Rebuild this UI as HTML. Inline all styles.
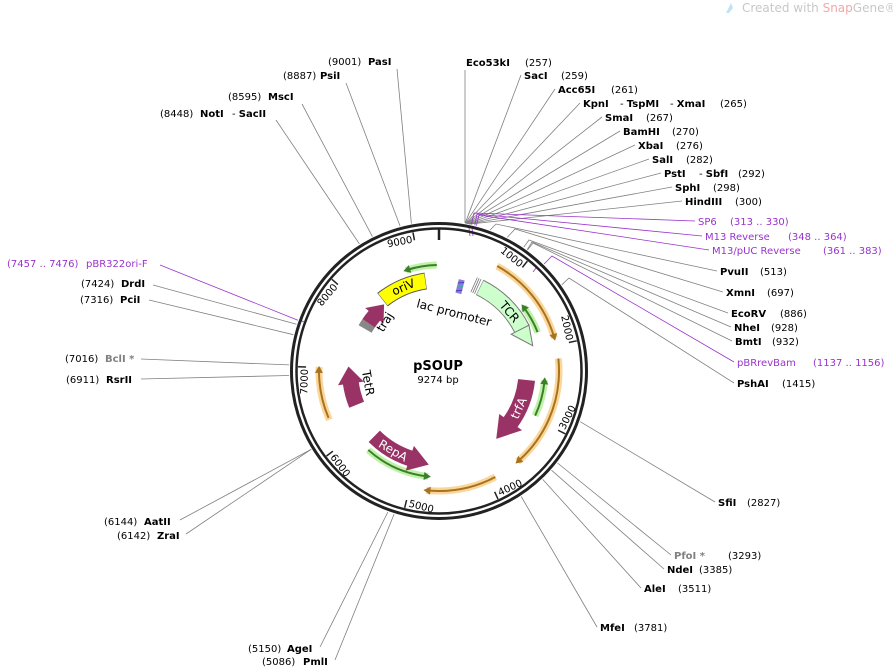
<!DOCTYPE html>
<html><head><meta charset="utf-8"><style>
html,body{margin:0;padding:0;background:#fff;}
svg{display:block;font-family:"DejaVu Sans","Liberation Sans",sans-serif;}
.n{font-size:10px;fill:#000;}
.b{font-weight:bold;}
.p{fill:#9933cc;}
.g{fill:#808080;}
.ln{stroke:#808080;stroke-width:0.8;fill:none;}
.lp{stroke:#9933cc;stroke-width:0.8;fill:none;}
.tk{font-size:10px;fill:#000;}
</style></head><body>
<svg width="893" height="670" viewBox="0 0 893 670" xmlns="http://www.w3.org/2000/svg">
<rect width="893" height="670" fill="#fff"/>
<path d="M726 13 L731 3 L733 8 L729 13 Z" fill="#bfe3f3"/>
<text x="742" y="12" font-size="12" fill="#c8c8c8">Created with <tspan fill="#f2a8a8">Snap</tspan>Gene®</text>

<g class="ln">
<line x1="465" y1="223" x2="465" y2="70"/>
<line x1="465.2" y1="223.3" x2="521" y2="75"/>
<line x1="465.4" y1="223.3" x2="555" y2="89"/>
<line x1="465.8" y1="223.4" x2="580" y2="103"/>
<line x1="466" y1="223.4" x2="602" y2="117"/>
<line x1="466.3" y1="223.5" x2="620" y2="131"/>
<line x1="466.9" y1="223.6" x2="635" y2="145"/>
<line x1="467.5" y1="223.7" x2="649" y2="159"/>
<line x1="468.5" y1="223.9" x2="661" y2="173"/>
<line x1="469.1" y1="224" x2="672" y2="187"/>
<line x1="469.3" y1="224.1" x2="682" y2="201"/>
<polyline points="490.1,230 496,224 717,271"/>
<polyline points="507.2,237.4 515,229 723,292"/>
<polyline points="523.7,247.2 529,240 728,313"/>
<polyline points="527.2,249.7 532,242 731,327"/>
<polyline points="527.5,250 533,243 732,341"/>
<polyline points="561.8,284.8 569,278 734,383"/>
<line x1="580.2" y1="421.7" x2="715" y2="502"/>
<line x1="557.5" y1="463" x2="671" y2="555"/>
<line x1="551.5" y1="470.2" x2="664" y2="569"/>
<line x1="542.7" y1="479.4" x2="641" y2="588"/>
<line x1="521.2" y1="496.5" x2="597" y2="627"/>
<line x1="411.4" y1="223.6" x2="397" y2="69"/>
<line x1="400.1" y1="226.1" x2="346" y2="83"/>
<line x1="372.4" y1="236.6" x2="302" y2="104"/>
<line x1="359.4" y1="243.9" x2="276" y2="120"/>
<line x1="296.5" y1="324.2" x2="153" y2="285"/>
<line x1="293.4" y1="334.7" x2="149" y2="300"/>
<line x1="289.1" y1="364.9" x2="141" y2="359"/>
<line x1="289.1" y1="375.5" x2="141" y2="379"/>
<line x1="311.1" y1="449.4" x2="180" y2="520"/>
<line x1="311.2" y1="449.3" x2="186" y2="534"/>
<line x1="387.9" y1="512" x2="320" y2="647"/>
<line x1="394.1" y1="514.1" x2="335" y2="660"/>
</g>
<g class="lp">
<polyline points="471.4,224.5 474,213 695,221"/>
<polyline points="474.8,225.3 477,214 702,236"/>
<polyline points="476.4,225.7 479,215 709,250"/>
<polyline points="544.1,264 552,256 734,362"/>
<line x1="297.9" y1="320.2" x2="160" y2="265"/>
<line x1="469" y1="228" x2="470" y2="236"/>
<line x1="472" y1="228" x2="473" y2="236"/>
<line x1="536" y1="268" x2="533" y2="272"/>
<line x1="304" y1="322" x2="300" y2="320"/>
</g>

<g class="n">
<text y="66"><tspan x="466" class="b">Eco53kI</tspan><tspan x="525">(257)</tspan></text>
<text y="79"><tspan x="524" class="b">SacI</tspan><tspan x="561">(259)</tspan></text>
<text y="93"><tspan x="558" class="b">Acc65I</tspan><tspan x="611">(261)</tspan></text>
<text y="107"><tspan x="583" class="b">KpnI</tspan><tspan x="620">- </tspan><tspan class="b">TspMI</tspan><tspan x="670">- </tspan><tspan class="b">XmaI</tspan><tspan x="720">(265)</tspan></text>
<text y="121"><tspan x="605" class="b">SmaI</tspan><tspan x="646">(267)</tspan></text>
<text y="135"><tspan x="623" class="b">BamHI</tspan><tspan x="672">(270)</tspan></text>
<text y="149"><tspan x="638" class="b">XbaI</tspan><tspan x="676">(276)</tspan></text>
<text y="163"><tspan x="652" class="b">SalI</tspan><tspan x="686">(282)</tspan></text>
<text y="177"><tspan x="664" class="b">PstI</tspan><tspan x="699">- </tspan><tspan class="b">SbfI</tspan><tspan x="738">(292)</tspan></text>
<text y="191"><tspan x="675" class="b">SphI</tspan><tspan x="713">(298)</tspan></text>
<text y="205"><tspan x="685" class="b">HindIII</tspan><tspan x="735">(300)</tspan></text>
<text y="225" class="p"><tspan x="698">SP6</tspan><tspan x="730">(313 .. 330)</tspan></text>
<text y="240" class="p"><tspan x="705">M13 Reverse</tspan><tspan x="788">(348 .. 364)</tspan></text>
<text y="254" class="p"><tspan x="712">M13/pUC Reverse</tspan><tspan x="823">(361 .. 383)</tspan></text>
<text y="275"><tspan x="720" class="b">PvuII</tspan><tspan x="760">(513)</tspan></text>
<text y="296"><tspan x="726" class="b">XmnI</tspan><tspan x="767">(697)</tspan></text>
<text y="317"><tspan x="731" class="b">EcoRV</tspan><tspan x="780">(886)</tspan></text>
<text y="331"><tspan x="734" class="b">NheI</tspan><tspan x="771">(928)</tspan></text>
<text y="345"><tspan x="735" class="b">BmtI</tspan><tspan x="772">(932)</tspan></text>
<text y="366" class="p"><tspan x="737">pBRrevBam</tspan><tspan x="813">(1137 .. 1156)</tspan></text>
<text y="387"><tspan x="737" class="b">PshAI</tspan><tspan x="782">(1415)</tspan></text>
<text y="506"><tspan x="718" class="b">SfiI</tspan><tspan x="747">(2827)</tspan></text>
<text y="559"><tspan x="674" class="b g">PfoI *</tspan><tspan x="728">(3293)</tspan></text>
<text y="573"><tspan x="667" class="b">NdeI</tspan><tspan x="699">(3385)</tspan></text>
<text y="592"><tspan x="644" class="b">AleI</tspan><tspan x="678">(3511)</tspan></text>
<text y="631"><tspan x="600" class="b">MfeI</tspan><tspan x="634">(3781)</tspan></text>
<text y="65"><tspan x="328">(9001)</tspan><tspan x="368" class="b">PasI</tspan></text>
<text y="79"><tspan x="283">(8887)</tspan><tspan x="320" class="b">PsiI</tspan></text>
<text y="100"><tspan x="228">(8595)</tspan><tspan x="268" class="b">MscI</tspan></text>
<text y="117"><tspan x="160">(8448)</tspan><tspan x="200" class="b">NotI</tspan><tspan x="232">- </tspan><tspan class="b">SacII</tspan></text>
<text y="267" class="p"><tspan x="7">(7457 .. 7476)</tspan><tspan x="86">pBR322ori-F</tspan></text>
<text y="287"><tspan x="81">(7424)</tspan><tspan x="121" class="b">DrdI</tspan></text>
<text y="303"><tspan x="80">(7316)</tspan><tspan x="120" class="b">PciI</tspan></text>
<text y="362"><tspan x="65">(7016)</tspan><tspan x="105" class="b g">BclI *</tspan></text>
<text y="383"><tspan x="66">(6911)</tspan><tspan x="106" class="b">RsrII</tspan></text>
<text y="525"><tspan x="104">(6144)</tspan><tspan x="144" class="b">AatII</tspan></text>
<text y="539"><tspan x="117">(6142)</tspan><tspan x="157" class="b">ZraI</tspan></text>
<text y="652"><tspan x="248">(5150)</tspan><tspan x="287" class="b">AgeI</tspan></text>
<text y="665"><tspan x="262">(5086)</tspan><tspan x="303" class="b">PmlI</tspan></text>
</g>

<g transform="translate(439,371)">
<circle r="147.5" fill="none" stroke="#222" stroke-width="3"/>
<circle r="142.5" fill="none" stroke="#222" stroke-width="2.5"/>
<line x1="0" y1="-143" x2="0" y2="-131" stroke="#222" stroke-width="2.5"/>
<g stroke="#222" stroke-width="1.5">
<line x1="0" y1="-141" x2="0" y2="-133" transform="rotate(38.82)"/>
<line x1="0" y1="-141" x2="0" y2="-133" transform="rotate(77.64)"/>
<line x1="0" y1="-141" x2="0" y2="-133" transform="rotate(116.45)"/>
<line x1="0" y1="-141" x2="0" y2="-133" transform="rotate(155.27)"/>
<line x1="0" y1="-141" x2="0" y2="-133" transform="rotate(194.09)"/>
<line x1="0" y1="-141" x2="0" y2="-133" transform="rotate(232.91)"/>
<line x1="0" y1="-141" x2="0" y2="-133" transform="rotate(271.73)"/>
<line x1="0" y1="-141" x2="0" y2="-133" transform="rotate(310.55)"/>
<line x1="0" y1="-141" x2="0" y2="-133" transform="rotate(349.36)"/>
</g>
<g class="tk">
<text transform="rotate(38.82) translate(0,-131)" x="-2" text-anchor="end">1000</text>
<text transform="rotate(77.64) translate(0,-131)" x="-2" text-anchor="end">2000</text>
<text transform="rotate(116.45) translate(0,-139) rotate(180)" x="3" text-anchor="start">3000</text>
<text transform="rotate(155.27) translate(0,-139) rotate(180)" x="3" text-anchor="start">4000</text>
<text transform="rotate(194.09) translate(0,-139) rotate(180)" x="3" text-anchor="start">5000</text>
<text transform="rotate(232.91) translate(0,-139) rotate(180)" x="3" text-anchor="start">6000</text>
<text transform="rotate(271.73) translate(0,-131)" x="-2" text-anchor="end">7000</text>
<text transform="rotate(310.55) translate(0,-131)" x="-2" text-anchor="end">8000</text>
<text transform="rotate(349.36) translate(0,-131)" x="-2" text-anchor="end">9000</text>
</g>

<g fill="none" transform="rotate(-90)">
<circle r="120" pathLength="360" stroke="#fbd69a" stroke-width="7" stroke-dasharray="0 29 45 400"/>
<circle r="120" pathLength="360" stroke="#fbd69a" stroke-width="7" stroke-dasharray="0 84 55 400"/>
<circle r="120" pathLength="360" stroke="#fbd69a" stroke-width="7" stroke-dasharray="0 152 34 400"/>
<circle r="120" pathLength="360" stroke="#fbd69a" stroke-width="7" stroke-dasharray="0 246 26 400"/>
<circle r="120" pathLength="360" stroke="#a8731f" stroke-width="2" stroke-dasharray="0 29 44 400"/>
<circle r="120" pathLength="360" stroke="#a8731f" stroke-width="2" stroke-dasharray="0 84 54 400"/>
<circle r="120" pathLength="360" stroke="#a8731f" stroke-width="2" stroke-dasharray="0 152 33 400"/>
<circle r="120" pathLength="360" stroke="#a8731f" stroke-width="2" stroke-dasharray="0 247 23 400"/>
<circle r="106" pathLength="360" stroke="#bff2a8" stroke-width="7" stroke-dasharray="0 52.7 16 400"/>
<circle r="106" pathLength="360" stroke="#bff2a8" stroke-width="7" stroke-dasharray="0 95 20 400"/>
<circle r="106" pathLength="360" stroke="#bff2a8" stroke-width="7" stroke-dasharray="0 186 36 400"/>
<circle r="106" pathLength="360" stroke="#bff2a8" stroke-width="7" stroke-dasharray="0 342 17 400"/>
<circle r="106" pathLength="360" stroke="#3b7f2a" stroke-width="2" stroke-dasharray="0 53.5 15 400"/>
<circle r="106" pathLength="360" stroke="#3b7f2a" stroke-width="2" stroke-dasharray="0 96 19 400"/>
<circle r="106" pathLength="360" stroke="#3b7f2a" stroke-width="2" stroke-dasharray="0 187 35 400"/>
<circle r="106" pathLength="360" stroke="#3b7f2a" stroke-width="2" stroke-dasharray="0 343 16 400"/>
</g>
<g fill="#a8731f">
<polygon transform="rotate(74) translate(0,-120)" points="-4,-4 3,0 -4,4"/>
<polygon transform="rotate(139) translate(0,-120)" points="-4,-4 3,0 -4,4"/>
<polygon transform="rotate(186) translate(0,-120)" points="-4,-4 3,0 -4,4"/>
<polygon transform="rotate(271) translate(0,-120)" points="-4,-4 3,0 -4,4"/>
</g>
<g fill="#3b7f2a">
<polygon transform="rotate(52.7) translate(0,-106)" points="4,-4 -3,0 4,4"/>
<polygon transform="rotate(95) translate(0,-106)" points="4,-4 -3,0 4,4"/>
<polygon transform="rotate(186) translate(0,-106)" points="4,-4 -3,0 4,4"/>
<polygon transform="rotate(342) translate(0,-106)" points="4,-4 -3,0 4,4"/>
</g>

<g fill="none" transform="rotate(-90)">
<circle r="91" pathLength="360" stroke="#555" stroke-width="17" stroke-dasharray="0 322 30 400"/>
<circle r="91" pathLength="360" stroke="#ffff00" stroke-width="15" stroke-dasharray="0 322.3 29.4 400"/>
<circle r="93" pathLength="360" stroke="#777" stroke-width="17" stroke-dasharray="0 26 37 400"/>
<circle r="93" pathLength="360" stroke="#ccffcc" stroke-width="15" stroke-dasharray="0 26.3 37.5 400"/>
<circle r="88" pathLength="360" stroke="#993366" stroke-width="17" stroke-dasharray="0 96 30 400"/>
<circle r="92" pathLength="360" stroke="#993366" stroke-width="16" stroke-dasharray="0 198 27 400"/>
<circle r="89" pathLength="360" stroke="#993366" stroke-width="16" stroke-dasharray="0 248 14.5 400"/>
<circle r="85" pathLength="360" stroke="#888" stroke-width="15" stroke-dasharray="0 300 4.5 400"/>
<circle r="85" pathLength="360" stroke="#993366" stroke-width="15" stroke-dasharray="0 304.5 6.5 400"/>
</g>
<polygon transform="rotate(63) translate(0,-93)" points="0,-8 20,-2 0,12" fill="#ccffcc" stroke="#777" stroke-width="1"/>
<polygon transform="rotate(125.5) translate(0,-88)" points="0,-14 22,2 0,14" fill="#993366"/>
<polygon transform="rotate(198.5) translate(0,-92)" points="0,-13 -20,0 0,13" fill="#993366"/>
<polygon transform="rotate(262) translate(0,-89)" points="0,-13 17,0 0,13" fill="#993366"/>
<polygon transform="rotate(310.5) translate(0,-85)" points="0,-12 15,0 0,12" fill="#993366"/>
<g transform="rotate(14) translate(0,-87)">
<rect x="-3" y="-7" width="6" height="14" fill="#8c7ad9"/>
<line x1="-3" y1="-3" x2="3" y2="-5" stroke="#44b" stroke-width="1"/>
<line x1="-3" y1="1" x2="3" y2="-1" stroke="#4aa" stroke-width="1"/>
<line x1="-3" y1="5" x2="3" y2="3" stroke="#44b" stroke-width="1"/>
</g>
<g transform="rotate(24) translate(0,-93)" stroke="#777" stroke-width="0.8">
<line x1="-3" y1="-8" x2="-3" y2="8"/><line x1="-1" y1="-8" x2="-1" y2="8"/><line x1="1" y1="-8" x2="1" y2="8"/>
</g>

<text transform="rotate(337) translate(0,-91)" font-size="12" text-anchor="middle" dominant-baseline="central" fill="#000">oriV</text>
<text transform="rotate(50) translate(0,-92)" font-size="12" text-anchor="middle" dominant-baseline="central" fill="#000">TCR</text>
<text transform="rotate(14.5) translate(0,-60)" font-size="12" text-anchor="middle" dominant-baseline="central" fill="#000">lac promoter</text>
<text transform="rotate(115) translate(0,-88) rotate(180)" font-size="12" text-anchor="middle" dominant-baseline="central" fill="#fff">trfA</text>
<text transform="rotate(210) translate(0,-92) rotate(180)" font-size="12" text-anchor="middle" dominant-baseline="central" fill="#fff">RepA</text>
<text transform="translate(-71,12) rotate(80)" font-size="12" text-anchor="middle" dominant-baseline="central" fill="#000">TetR</text>
<text transform="translate(-54,-49) rotate(-58)" font-size="12" text-anchor="middle" dominant-baseline="central" fill="#000">traj</text>

<text x="-1" y="-1" font-size="13" font-weight="bold" text-anchor="middle" fill="#000">pSOUP</text>
<text x="-1" y="12" font-size="10" text-anchor="middle" fill="#000">9274 bp</text>
</g>
</svg>
</body></html>
